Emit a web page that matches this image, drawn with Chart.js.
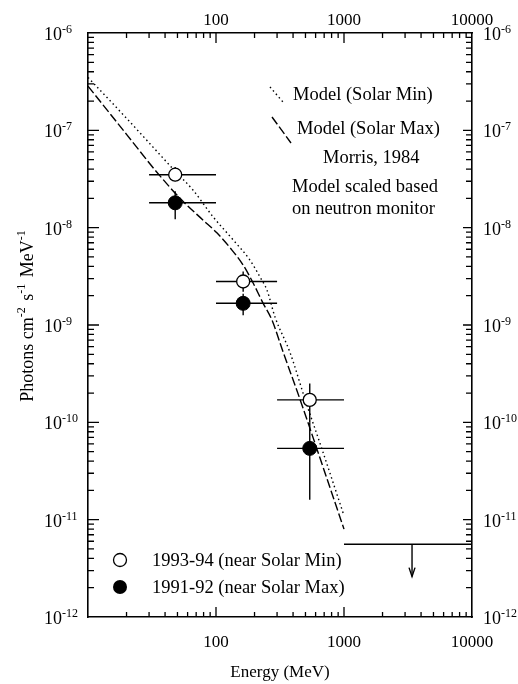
<!DOCTYPE html>
<html>
<head>
<meta charset="utf-8">
<script src="https://cdn.jsdelivr.net/npm/chart.js@4.4.1/dist/chart.umd.min.js"></script>
<style>
  body { margin: 0; background: #fff; }
</style>
</head>
<body>
<canvas id="grafica" width="518" height="684"></canvas>
<script>
// Modelo Morris 1984 (energia en MeV, flujo)
const modeloMinE = [10, 20, 48, 66, 95, 136, 184, 221, 250, 289, 379, 500, 673, 1000];
const modeloMinF = [3.5e-7, 1.33e-7, 3.8e-8, 2.44e-8, 1.29e-8, 7.5e-9, 4.65e-9, 3.1e-9, 2.29e-9, 1.21e-9, 5.2e-10, 1.67e-10, 5.3e-11, 1.1e-11];
const modeloMaxE = [10, 20, 34, 54, 79, 102, 129, 163, 195, 233, 274, 334, 457, 615, 1000];
const modeloMaxF = [2.85e-7, 9.1e-8, 3.8e-8, 1.92e-8, 1.2e-8, 8.8e-9, 6.2e-9, 4.13e-9, 2.7e-9, 1.68e-9, 1.12e-9, 5.3e-10, 1.67e-10, 5.3e-11, 8e-12];

// Mediciones con sus barras de error
const puntosE = [48, 163, 540];
const xBajo = [30, 100, 300];
const xAlto = [100, 300, 1000];
const min9394 = [3.5e-8, 2.8e-9, 1.7e-10];
const min9394Bajo = [3.0e-8, 2.2e-9, 1.0e-10];
const min9394Alto = [4.2e-8, 3.55e-9, 2.5e-10];
const max9192 = [1.8e-8, 1.67e-9, 5.4e-11];
const max9192Bajo = [1.22e-8, 1.26e-9, 1.6e-11];
const max9192Alto = [2.37e-8, 2.1e-9, 1.0e-10];

// Limite superior arriba de 1 GeV
const limiteE = [1000, 10000];
const limiteF = 5.6e-12;
const flechaE = 3400;
const flechaF = 2.6e-12;

// Etiquetas de los ejes
const etiquetasX = [100, 1000, 10000];
const exponentesY = [-6, -7, -8, -9, -10, -11, -12];

const serif = '"Liberation Serif", "Times New Roman", serif';

function aPuntos(xs, ys) {
    return xs.map((x, i) => ({ x: x, y: ys[i] }));
}

// Ticks 1..9 por decada
function ticksLog(min, max) {
    const t = [];
    for (let e = Math.round(Math.log10(min)); e < Math.round(Math.log10(max)); e++) {
        for (let j = 1; j < 10; j++) t.push({ value: j * Math.pow(10, e) });
    }
    t.push({ value: max });
    return t;
}

function esMayor(v) {
    const l = Math.log10(v);
    return Math.abs(l - Math.round(l)) < 1e-9;
}

// Dibuja 10 con exponente
function potencia(ctx, exp, x, y) {
    ctx.textAlign = 'left';
    ctx.textBaseline = 'alphabetic';
    ctx.font = '18px ' + serif;
    ctx.fillText('10', x, y + 7);
    const w = ctx.measureText('10').width;
    ctx.font = '12px ' + serif;
    ctx.fillText(String(exp), x + w, y);
}

const extras = {
    id: 'extras',
    beforeDatasetsDraw(chart) {
        const ctx = chart.ctx;
        const sx = chart.scales.x, sy = chart.scales.y;
        ctx.save();
        ctx.strokeStyle = '#000';
        ctx.lineWidth = 1.4;
        const linea = (x1, y1, x2, y2) => {
            ctx.beginPath();
            ctx.moveTo(sx.getPixelForValue(x1), sy.getPixelForValue(y1));
            ctx.lineTo(sx.getPixelForValue(x2), sy.getPixelForValue(y2));
            ctx.stroke();
        };
        for (let i = 0; i < puntosE.length; i++) {
            linea(xBajo[i], min9394[i], xAlto[i], min9394[i]);
            linea(puntosE[i], min9394Bajo[i], puntosE[i], min9394Alto[i]);
            linea(xBajo[i], max9192[i], xAlto[i], max9192[i]);
            linea(puntosE[i], max9192Bajo[i], puntosE[i], max9192Alto[i]);
        }
        // limite superior y flecha
        linea(limiteE[0], limiteF, limiteE[1], limiteF);
        linea(flechaE, limiteF, flechaE, flechaF);
        const fx = sx.getPixelForValue(flechaE), fy = sy.getPixelForValue(flechaF);
        ctx.beginPath();
        ctx.moveTo(fx - 3, fy - 9);
        ctx.lineTo(fx, fy);
        ctx.lineTo(fx + 3, fy - 9);
        ctx.stroke();
        ctx.restore();
    },
    afterDraw(chart) {
        const ctx = chart.ctx;
        const a = chart.chartArea;
        const sx = chart.scales.x, sy = chart.scales.y;
        ctx.save();
        ctx.strokeStyle = '#000';
        ctx.fillStyle = '#000';
        ctx.lineWidth = 1.3;

        // marcas hacia adentro
        sx.ticks.forEach(t => {
            if (t.value <= sx.min || t.value >= sx.max) return;
            const p = sx.getPixelForValue(t.value);
            const l = esMayor(t.value) ? 10 : 5;
            ctx.beginPath();
            ctx.moveTo(p, a.bottom); ctx.lineTo(p, a.bottom - l);
            ctx.moveTo(p, a.top); ctx.lineTo(p, a.top + l);
            ctx.stroke();
        });
        sy.ticks.forEach(t => {
            if (t.value <= sy.min * 1.0001 || t.value >= sy.max * 0.9999) return;
            const p = sy.getPixelForValue(t.value);
            const may = esMayor(t.value);
            ctx.beginPath();
            ctx.moveTo(a.left, p); ctx.lineTo(a.left + (may ? 11 : 6), p);
            ctx.moveTo(a.right, p); ctx.lineTo(a.right - (may ? 9 : 6), p);
            ctx.stroke();
        });

        // etiquetas eje x (abajo y arriba)
        ctx.font = '17px ' + serif;
        ctx.textAlign = 'center';
        ctx.textBaseline = 'alphabetic';
        etiquetasX.forEach(v => {
            const p = sx.getPixelForValue(v);
            ctx.fillText(String(v), p, a.bottom + 30);
            ctx.fillText(String(v), p, a.top - 8);
        });

        // etiquetas eje y (izquierda y derecha)
        exponentesY.forEach(e => {
            const p = sy.getPixelForValue(Math.pow(10, e));
            potencia(ctx, e, 44, p);
            potencia(ctx, e, a.right + 11, p);
        });

        // titulos
        ctx.font = '17px ' + serif;
        ctx.textAlign = 'center';
        ctx.fillText('Energy (MeV)', (a.left + a.right) / 2, 677);

        const partes = [['Photons cm', 0], ['-2', 1], [' s', 0], ['-1', 1], [' MeV', 0], ['-1', 1]];
        let total = 0;
        partes.forEach(pt => {
            ctx.font = (pt[1] ? '12px ' : '18px ') + serif;
            total += ctx.measureText(pt[0]).width + (pt[1] ? 2 : 0);
        });
        ctx.save();
        ctx.translate(33, 315);
        ctx.rotate(-Math.PI / 2);
        ctx.textAlign = 'left';
        let cx = -total / 2;
        partes.forEach(pt => {
            ctx.font = (pt[1] ? '12px ' : '18px ') + serif;
            ctx.fillText(pt[0], cx, pt[1] ? -8 : 0);
            cx += ctx.measureText(pt[0]).width + (pt[1] ? 2 : 0);
        });
        ctx.restore();

        // leyenda del modelo
        ctx.lineWidth = 1.4;
        ctx.setLineDash([1.5, 3]);
        ctx.beginPath(); ctx.moveTo(270, 87); ctx.lineTo(283, 102); ctx.stroke();
        ctx.setLineDash([9, 3]);
        ctx.beginPath(); ctx.moveTo(272, 117); ctx.lineTo(291, 143); ctx.stroke();
        ctx.setLineDash([]);

        ctx.font = '18.5px ' + serif;
        ctx.textAlign = 'left';
        ctx.textBaseline = 'middle';
        ctx.fillText('Model (Solar Min)', 293, 95);
        ctx.fillText('Model (Solar Max)', 297, 129);
        ctx.fillText('Morris, 1984', 323, 158);
        ctx.fillText('Model scaled based', 292, 187);
        ctx.fillText('on neutron monitor', 292, 209);

        // leyenda de las mediciones
        ctx.lineWidth = 1.3;
        ctx.beginPath();
        ctx.arc(120, 560, 6.5, 0, Math.PI * 2);
        ctx.fillStyle = '#fff';
        ctx.fill();
        ctx.stroke();
        ctx.fillStyle = '#000';
        ctx.beginPath();
        ctx.arc(120, 587, 7, 0, Math.PI * 2);
        ctx.fill();
        ctx.fillText('1993-94 (near Solar Min)', 152, 561);
        ctx.fillText('1991-92 (near Solar Max)', 152, 588);
        ctx.restore();
    }
};

const ejeLog = (pos, min, max) => ({
    type: 'logarithmic',
    position: pos,
    min: min,
    max: max,
    afterBuildTicks: s => { s.ticks = ticksLog(min, max); },
    ticks: { display: false },
    grid: { display: false, drawTicks: false },
    border: { display: true, color: '#000', width: 1.6 }
});

new Chart(document.getElementById('grafica'), {
    type: 'scatter',
    data: {
        datasets: [
            {
                label: '1993-94 (near Solar Min)',
                data: aPuntos(puntosE, min9394),
                pointRadius: 6.5,
                pointBackgroundColor: '#fff',
                pointBorderColor: '#000',
                pointBorderWidth: 1.3
            },
            {
                label: '1991-92 (near Solar Max)',
                data: aPuntos(puntosE, max9192),
                pointRadius: 7,
                pointBackgroundColor: '#000',
                pointBorderColor: '#000',
                pointBorderWidth: 1
            },
            {
                label: 'Model (Solar Min)',
                data: aPuntos(modeloMinE, modeloMinF),
                showLine: true,
                pointRadius: 0,
                borderColor: '#000',
                borderWidth: 1.4,
                borderDash: [1.5, 3],
                cubicInterpolationMode: 'monotone'
            },
            {
                label: 'Model (Solar Max)',
                data: aPuntos(modeloMaxE, modeloMaxF),
                showLine: true,
                pointRadius: 0,
                borderColor: '#000',
                borderWidth: 1.4,
                borderDash: [9, 3],
                cubicInterpolationMode: 'monotone'
            }
        ]
    },
    options: {
        responsive: false,
        animation: false,
        layout: { padding: { left: 88, right: 46, top: 33, bottom: 67 } },
        plugins: { legend: { display: false }, tooltip: { enabled: false } },
        scales: {
            x: ejeLog('bottom', 10, 10000),
            x2: ejeLog('top', 10, 10000),
            y: ejeLog('left', 1e-12, 1e-6),
            y2: ejeLog('right', 1e-12, 1e-6)
        }
    },
    plugins: [extras]
});
</script>
</body>
</html>
